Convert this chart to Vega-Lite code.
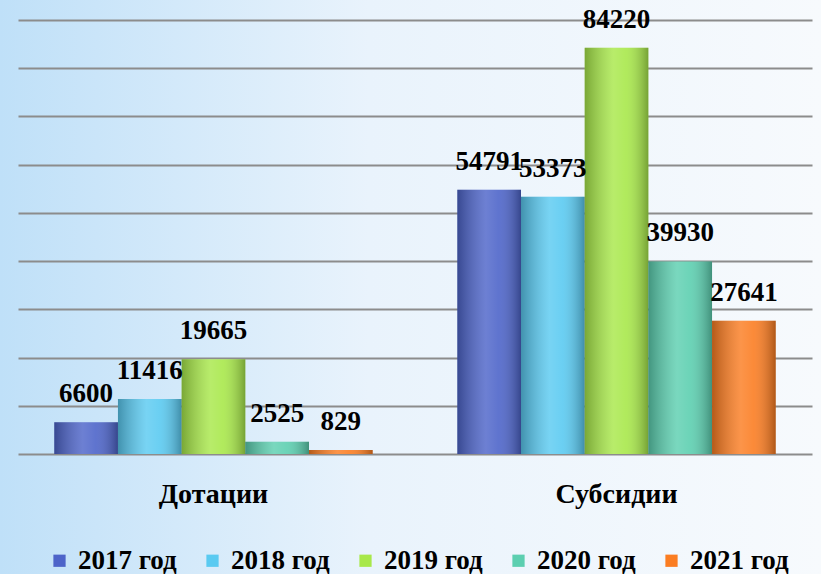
{
  "$schema": "https://vega.github.io/schema/vega-lite/v6.json",
  "width": 821,
  "height": 574,
  "padding": 0,
  "autosize": {"type": "none"},
  "background": "#eef6fc",
  "config": {"view": {"stroke": null, "fill": {"gradient": "linear", "x1": 0, "y1": 0.5, "x2": 1, "y2": 0.5, "stops": [
        {"offset": 0, "color": "#bfe0f8"},
        {"offset": 0.45, "color": "#e9f3fc"},
        {"offset": 1, "color": "#f7fafd"}
      ]}}},
  "data": {"values": [
    {"cat": "Дотации", "year": "2017 год", "value": 6600},
    {"cat": "Дотации", "year": "2018 год", "value": 11416},
    {"cat": "Дотации", "year": "2019 год", "value": 19665},
    {"cat": "Дотации", "year": "2020 год", "value": 2525},
    {"cat": "Дотации", "year": "2021 год", "value": 829},
    {"cat": "Субсидии", "year": "2017 год", "value": 54791},
    {"cat": "Субсидии", "year": "2018 год", "value": 53373},
    {"cat": "Субсидии", "year": "2019 год", "value": 84220},
    {"cat": "Субсидии", "year": "2020 год", "value": 39930},
    {"cat": "Субсидии", "year": "2021 год", "value": 27641}
  ]},
  "layer": [
    {
      "mark": {"type": "bar"},
      "encoding": {
        "x": {"field": "cat", "type": "nominal", "sort": null,
          "scale": {"range": [18, 812], "paddingInner": 0.21, "paddingOuter": 0.09},
          "axis": {"orient": "bottom", "offset": -120, "title": null, "labelAngle": 0,
            "labelFont": "Liberation Serif", "labelFontWeight": "bold", "labelFontSize": 28,
            "labelColor": "#000000", "labelPadding": 26, "ticks": false,
            "domainColor": "#8c8c8c", "domainWidth": 2, "grid": false}},
        "xOffset": {"field": "year", "type": "nominal", "sort": null,
          "scale": {"paddingInner": 0, "paddingOuter": 0}},
        "y": {"field": "value", "type": "quantitative",
          "scale": {"domain": [-24880, 94147], "nice": false, "zero": false},
          "axis": {"values": [10000, 20000, 30000, 40000, 50000, 60000, 70000, 80000, 90000],
            "grid": true, "gridColor": "#8c8c8c", "gridWidth": 2, "labels": false,
            "ticks": false, "domain": false, "title": null}},
        "color": {"field": "year", "type": "nominal", "sort": null,
          "scale": {"range": ["#4d64c9", "#5acaf1", "#a8e84a", "#5ccfb0", "#fb7d22"]},
          "legend": {"orient": "none", "legendX": 46, "legendY": 547, "direction": "horizontal",
            "title": null, "symbolType": "square", "symbolSize": 150, "symbolStrokeWidth": 0,
            "labelFont": "Liberation Serif", "labelFontWeight": "bold", "labelFontSize": 27,
            "labelColor": "#000000", "labelOffset": 5, "columnPadding": 22, "labelLimit": 300}}
      }
    },
    {
      "mark": {"type": "bar", "fill": {"gradient": "linear", "x1": 0, "y1": 0.5, "x2": 1, "y2": 0.5, "stops": [
        {"offset": 0, "color": "rgba(0,0,0,0.28)"},
        {"offset": 0.45, "color": "rgba(255,255,255,0.18)"},
        {"offset": 0.65, "color": "rgba(255,255,255,0.1)"},
        {"offset": 1, "color": "rgba(0,0,0,0.3)"}
      ]}},
      "encoding": {
        "x": {"field": "cat", "type": "nominal", "sort": null},
        "xOffset": {"field": "year", "type": "nominal", "sort": null},
        "y": {"field": "value", "type": "quantitative"}
      }
    },
    {
      "mark": {"type": "text", "baseline": "middle", "dy": -28, "font": "Liberation Serif",
        "fontWeight": "bold", "fontSize": 27, "color": "#000000"},
      "encoding": {
        "x": {"field": "cat", "type": "nominal", "sort": null},
        "xOffset": {"field": "year", "type": "nominal", "sort": null},
        "y": {"field": "value", "type": "quantitative"},
        "text": {"field": "value", "type": "quantitative", "format": "d"}
      }
    }
  ]
}
